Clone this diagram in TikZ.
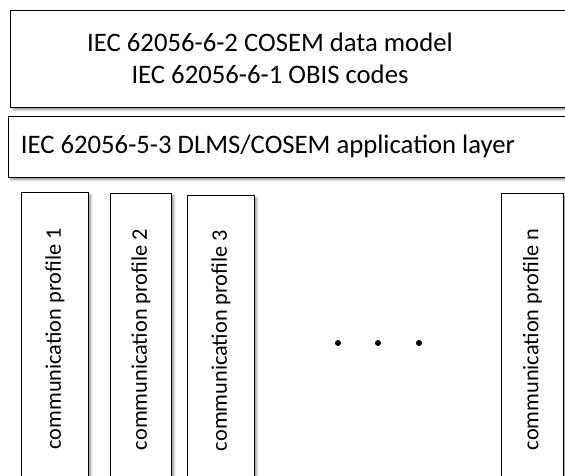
\documentclass[tikz,border=0pt]{standalone}
\usepackage{fontspec}
\setmainfont{Carlito}
\usetikzlibrary{shadows.blur}

\begin{document}
\begin{tikzpicture}[x=1pt, y=1pt,
  every node/.style={font=\fontsize{26.7}{32}\selectfont},
  layer/.style={draw, line width=0.9pt, fill=white, inner sep=0pt,
    blur shadow={shadow xshift=2.5pt, shadow yshift=-2.5pt, shadow blur radius=2pt}},
  proflabel/.style={rotate=90, font=\fontsize{22.3}{26}\selectfont}]
\useasboundingbox (0,0) rectangle (565,475);
\clip (0,0) rectangle (565,475);
% upper layers
\node[layer, anchor=north west, minimum width=600pt, minimum height=97pt] (model) at (10,465) {};
\node[align=center] (modeltxt) at (270,416.5) {IEC 62056-6-2 COSEM data model\\IEC 62056-6-1 OBIS codes};
\node[layer, anchor=north west, minimum width=600pt, minimum height=61pt] (app) at (8,359) {};
\node (apptxt) at (268,328.5) {IEC 62056-5-3 DLMS/COSEM application layer};
% communication profiles
\foreach \i/\x/\w/\top in {1/21/67/283, 2/110/61/282, 3/187/67/280, n/501/62/282}
  \node[layer, anchor=north west, minimum width=\w pt, minimum height={\top pt+10pt}] (col\i) at (\x,\top) {};
\foreach \i in {1,2,3,n}
  \node[proflabel] (lab\i) at (col\i.center) {communication profile \i};
% ellipsis
\foreach \x in {338,378,419}
  \node[circle, fill, inner sep=0pt, minimum size=6pt] (dot\x) at (\x,132) {};
\end{tikzpicture}
\end{document}
